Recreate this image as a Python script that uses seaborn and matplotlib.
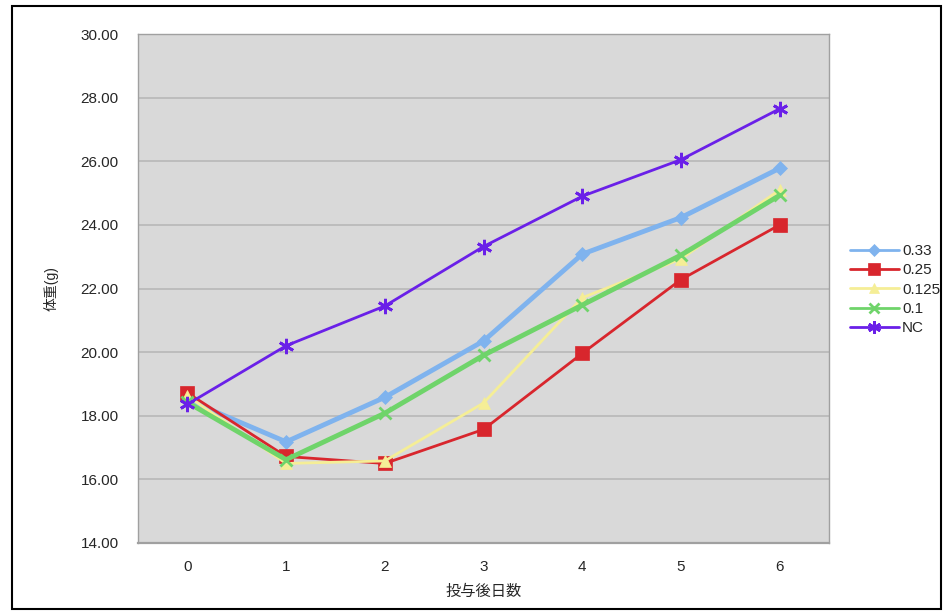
import matplotlib
matplotlib.use("Agg")
import matplotlib.pyplot as plt
import seaborn as sns
import pandas as pd

days = [0, 1, 2, 3, 4, 5, 6]
v033 = [18.50, 17.18, 18.58, 20.35, 23.08, 24.23, 25.78]
v025 = [18.72, 16.72, 16.50, 17.57, 19.96, 22.28, 24.00]
v0125 = [18.62, 16.50, 16.58, 18.40, 21.71, 22.93, 25.10]
v01 = [18.42, 16.62, 18.08, 19.90, 21.48, 23.05, 24.93]
vnc = [18.36, 20.20, 21.45, 23.32, 24.90, 26.05, 27.65]

series = ["0.33", "0.25", "0.125", "0.1", "NC"]
values = [v033, v025, v0125, v01, vnc]
colors = ["#7fb3ee", "#d8262d", "#f5ee96", "#6fd46a", "#6a20e8"]
markers = ["D", "s", "^", "x", (6, 2, 0)]
msizes = [7, 10, 8, 8, 11]
widths = [3.5, 2.0, 2.0, 3.5, 2.0]

sns.set_style("white")
plt.rcParams['font.family'] = ['Liberation Sans', 'Noto Sans CJK JP', 'DejaVu Sans']

fig = plt.figure(figsize=(9.44, 6.13), dpi=100)
ax = fig.add_axes([0.1462, 0.1142, 0.732, 0.8303])
ax.set_facecolor("#d9d9d9")

for name, vals, c, m, ms, lw in zip(series, values, colors, markers, msizes, widths):
    df = pd.DataFrame({"day": days, "w": vals})
    mew = 2.0 if m in ("x", (6, 2, 0)) else 0.5
    sns.lineplot(data=df, x="day", y="w", ax=ax, color=c, linewidth=lw,
                 marker=m, markersize=ms, markeredgecolor=c,
                 markeredgewidth=mew, label=name)

ax.set_xlim(-0.5, 6.5)
ax.set_ylim(14, 30)
yt = [14, 16, 18, 20, 22, 24, 26, 28, 30]
ax.set_yticks(yt)
ax.set_yticklabels([f"{t:.2f}" for t in yt], fontsize=11)
ax.set_xticks(days)
ax.set_xticklabels([str(d) for d in days], fontsize=11)
ax.set_xticks([x + 0.5 for x in days[:-1]], minor=True)
ax.tick_params(axis="x", which="major", length=0, pad=12)
ax.tick_params(axis="x", which="minor", length=4, direction="in", color="#999999")
ax.tick_params(axis="y", length=0, pad=14)
ax.yaxis.grid(True, color="#b8b8b8", linewidth=1.2)
ax.set_axisbelow(True)
for s in ax.spines.values():
    s.set_color("#a0a0a0")
    s.set_linewidth(1.0)
ax.spines["bottom"].set_linewidth(1.6)

ax.set_xlabel("投与後日数", fontsize=11, labelpad=8)
ax.set_ylabel("体重(g)", fontsize=10, labelpad=16)

leg = ax.legend(loc="upper left", bbox_to_anchor=(0.894, 0.612), bbox_transform=fig.transFigure,
                frameon=False, fontsize=11, handlelength=3.2, handletextpad=0.2,
                labelspacing=0.35, borderaxespad=0)
for h in leg.legend_handles:
    h.set_linewidth(2.0)
    h.set_markersize(h.get_markersize() * 0.85)

fig.patches.append(plt.Rectangle((0.013, 0.006), 0.984, 0.985, transform=fig.transFigure,
                                 fill=False, edgecolor="black", linewidth=1.5))

fig.savefig("out.png", dpi=100, facecolor="white")
